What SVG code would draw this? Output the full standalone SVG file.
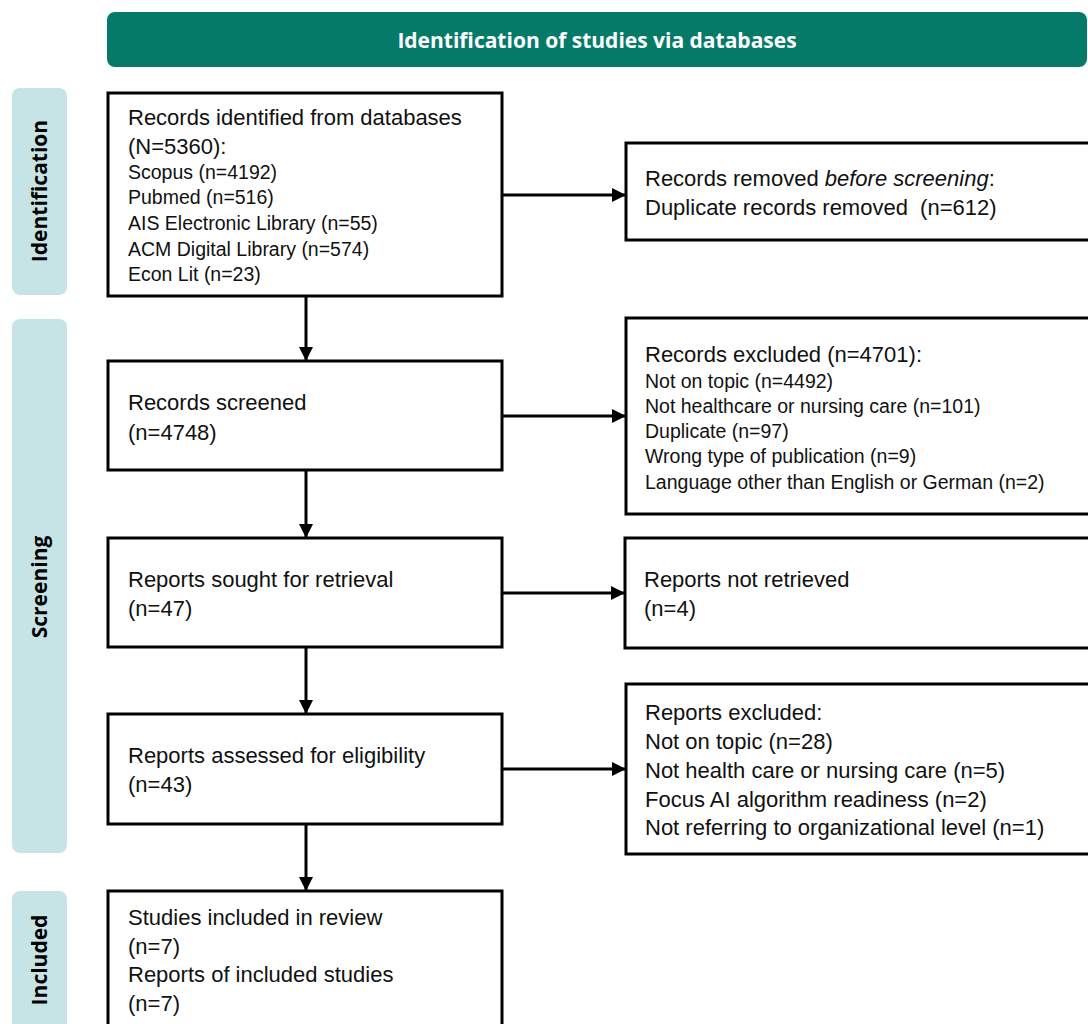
<svg xmlns="http://www.w3.org/2000/svg" width="1088" height="1024" viewBox="0 0 1088 1024">
<style>
.box{fill:#fff;stroke:#000;stroke-width:3}
.lane{fill:#c6e4e6}
.lanet{font-family:"Open Sans","Liberation Sans",sans-serif;font-weight:bold;font-size:21px;fill:#000;text-anchor:middle}
.t{font-family:"Liberation Sans",Arial,sans-serif;font-size:22px;fill:#111}
.s{font-family:"Liberation Sans",Arial,sans-serif;font-size:19.5px;fill:#111}
.con{stroke:#000;stroke-width:3;fill:none;marker-end:url(#ah)}
</style>
<defs>
<marker id="ah" viewBox="0 0 10 10" refX="10" refY="5" markerUnits="userSpaceOnUse" markerWidth="14" markerHeight="14" orient="auto">
<path d="M0,0 L10,5 L0,10 Z" fill="#000"/>
</marker>
</defs>
<rect width="1088" height="1024" fill="#fff"/>
<g id="header">
<rect x="107" y="12" width="980" height="55" rx="8" fill="#057a69"/>
<text x="597" y="48" font-family="'Open Sans','Liberation Sans',sans-serif" font-weight="bold" font-size="21" fill="#fff" text-anchor="middle">Identification of studies via databases</text>
</g>
<g id="lane-identification">
<rect class="lane" x="12" y="88" width="55" height="207" rx="8"/>
<text class="lanet" transform="translate(47,191) rotate(-90)">Identification</text>
</g>
<g id="lane-screening">
<rect class="lane" x="12" y="319" width="55" height="534" rx="8"/>
<text class="lanet" transform="translate(47,587) rotate(-90)">Screening</text>
</g>
<g id="lane-included">
<rect class="lane" x="12" y="891" width="55" height="150" rx="8"/>
<text class="lanet" transform="translate(47,960) rotate(-90)">Included</text>
</g>
<g id="connectors">
<path class="con" d="M306,296 V361"/>
<path class="con" d="M306,470 V538"/>
<path class="con" d="M306,647 V714"/>
<path class="con" d="M306,824 V891"/>
<path class="con" d="M502,195 H626"/>
<path class="con" d="M502,416 H626"/>
<path class="con" d="M502,593 H625"/>
<path class="con" d="M502,769 H626"/>
</g>
<g id="records-identified">
<rect class="box" x="108" y="93" width="394" height="203"/>
<text class="t" x="128" y="125">Records identified from databases</text>
<text class="t" x="128" y="154">(N=5360):</text>
<text class="s" x="128" y="179">Scopus (n=4192)</text>
<text class="s" x="128" y="204">Pubmed (n=516)</text>
<text class="s" x="128" y="230">AIS Electronic Library (n=55)</text>
<text class="s" x="128" y="256">ACM Digital Library (n=574)</text>
<text class="s" x="128" y="281">Econ Lit (n=23)</text>
</g>
<g id="records-removed">
<rect class="box" x="626" y="143" width="470" height="97"/>
<text class="t" x="645" y="186">Records removed <tspan font-style="italic">before screening</tspan>:</text>
<text class="t" x="645" y="215" xml:space="preserve">Duplicate records removed  (n=612)</text>
</g>
<g id="records-screened">
<rect class="box" x="108" y="361" width="394" height="109"/>
<text class="t" x="128" y="410">Records screened</text>
<text class="t" x="128" y="440">(n=4748)</text>
</g>
<g id="records-excluded">
<rect class="box" x="626" y="318" width="470" height="196"/>
<text class="t" x="645" y="362">Records excluded (n=4701):</text>
<text class="s" x="645" y="388">Not on topic (n=4492)</text>
<text class="s" x="645" y="413">Not healthcare or nursing care (n=101)</text>
<text class="s" x="645" y="438">Duplicate (n=97)</text>
<text class="s" x="645" y="463">Wrong type of publication (n=9)</text>
<text class="s" x="645" y="489">Language other than English or German (n=2)</text>
</g>
<g id="reports-sought">
<rect class="box" x="108" y="538" width="394" height="109"/>
<text class="t" x="128" y="587">Reports sought for retrieval</text>
<text class="t" x="128" y="616">(n=47)</text>
</g>
<g id="reports-not-retrieved">
<rect class="box" x="625" y="538" width="471" height="110"/>
<text class="t" x="644" y="587">Reports not retrieved</text>
<text class="t" x="644" y="616">(n=4)</text>
</g>
<g id="reports-assessed">
<rect class="box" x="108" y="714" width="394" height="110"/>
<text class="t" x="128" y="763">Reports assessed for eligibility</text>
<text class="t" x="128" y="792">(n=43)</text>
</g>
<g id="reports-excluded">
<rect class="box" x="626" y="684" width="470" height="170"/>
<text class="t" x="645" y="720">Reports excluded:</text>
<text class="t" x="645" y="749">Not on topic (n=28)</text>
<text class="t" x="645" y="778">Not health care or nursing care (n=5)</text>
<text class="t" x="645" y="807">Focus AI algorithm readiness (n=2)</text>
<text class="t" x="645" y="835">Not referring to organizational level (n=1)</text>
</g>
<g id="studies-included">
<rect class="box" x="108" y="891" width="394" height="150"/>
<text class="t" x="128" y="925">Studies included in review</text>
<text class="t" x="128" y="954">(n=7)</text>
<text class="t" x="128" y="982">Reports of included studies</text>
<text class="t" x="128" y="1011">(n=7)</text>
</g>
</svg>
